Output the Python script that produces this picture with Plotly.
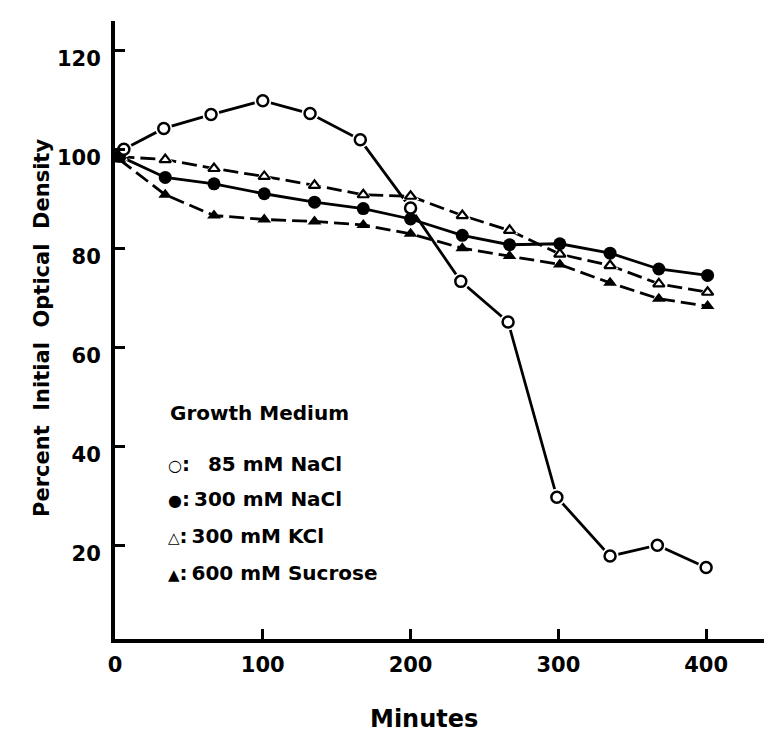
import plotly.graph_objects as go

# ---- data ----
t_open = [6, 33, 65, 100, 132, 166, 200, 234, 266, 299, 335, 367, 400]
nacl_85 = [100.1, 104.3, 107.1, 109.9, 107.3, 102.0, 88.2, 73.4, 65.2, 29.8, 17.9, 20.1, 15.6]

t_other = [3, 34, 67, 101, 135, 168, 200, 235, 267, 301, 335, 368, 401]
nacl_300 = [98.7, 94.4, 93.1, 91.1, 89.4, 88.1, 86.0, 82.7, 80.8, 81.0, 79.1, 75.9, 74.6]
kcl_300 = [98.6, 98.0, 96.2, 94.6, 92.8, 90.9, 90.6, 86.7, 83.7, 78.9, 76.6, 72.9, 71.2]
sucrose_600 = [98.0, 90.9, 86.7, 85.9, 85.5, 84.8, 83.0, 80.1, 78.5, 76.8, 73.1, 69.9, 68.4]

x_ticks = [0, 100, 200, 300, 400]
y_ticks = [20, 40, 60, 80, 100, 120]

legend_title = "Growth Medium"
legend_symbols = ["\u25cb", "\u25cf", "\u25b3", "\u25b2"]
legend_sym_sizes = [16, 16, 15, 15]
legend_labels = ["\u2009\u200785 mM NaCl", "\u2009300 mM NaCl",
                 "\u2009300 mM KCl", "\u2009600 mM Sucrose"]

FONT = "DejaVu Sans"
LW = 2.8

fig = go.Figure()

# lines
fig.add_trace(go.Scatter(x=t_other, y=kcl_300, mode="lines",
                         line=dict(color="black", width=LW, dash="15px,6px")))
fig.add_trace(go.Scatter(x=t_other, y=sucrose_600, mode="lines",
                         line=dict(color="black", width=LW, dash="15px,6px")))
fig.add_trace(go.Scatter(x=t_other, y=nacl_300, mode="lines",
                         line=dict(color="black", width=LW)))
fig.add_trace(go.Scatter(x=t_open, y=nacl_85, mode="lines",
                         line=dict(color="black", width=LW)))

# white halos for open markers
fig.add_trace(go.Scatter(x=t_other, y=kcl_300, mode="markers",
                         marker=dict(symbol="triangle-up", size=15, color="white")))
fig.add_trace(go.Scatter(x=t_open, y=nacl_85, mode="markers",
                         marker=dict(symbol="circle", size=17, color="white")))

# markers
fig.add_trace(go.Scatter(x=t_other, y=kcl_300, mode="markers",
                         marker=dict(symbol="triangle-up-open", size=10, color="black",
                                     line=dict(width=2.2, color="black"))))
fig.add_trace(go.Scatter(x=t_other, y=sucrose_600, mode="markers",
                         marker=dict(symbol="triangle-up", size=12, color="black")))
fig.add_trace(go.Scatter(x=t_other, y=nacl_300, mode="markers",
                         marker=dict(symbol="circle", size=13, color="black")))
fig.add_trace(go.Scatter(x=t_open, y=nacl_85, mode="markers",
                         marker=dict(symbol="circle", size=11, color="white",
                                     line=dict(width=2.5, color="black"))))

W, H = 772, 732
L, R, T, B = 107, 0, 13, 101


def px(x):
    return (x - L) / (W - L - R)


def py(y):
    return (H - B - y) / (H - T - B)


# legend as text
fig.add_annotation(x=px(160), y=py(405), xref="paper", yref="paper", text=legend_title,
                   showarrow=False, xanchor="left", yanchor="middle",
                   font=dict(family=FONT, size=20, color="black", weight="bold"))
row_y = [456, 491, 528, 565]
for sym, ss, lab, yy in zip(legend_symbols, legend_sym_sizes, legend_labels, row_y):
    txt = f'<span style="font-size:{ss}px">{sym}</span>:{lab}'
    fig.add_annotation(x=px(158), y=py(yy), xref="paper", yref="paper", text=txt,
                       showarrow=False, xanchor="left", yanchor="middle",
                       font=dict(family=FONT, size=20, color="black", weight="bold"))

# axis titles
fig.add_annotation(x=px(416), y=py(711), xref="paper", yref="paper", text="Minutes",
                   showarrow=False, xanchor="center", yanchor="middle",
                   font=dict(family=FONT, size=24, color="black", weight="bold"))
fig.add_annotation(x=px(34), y=py(320), xref="paper", yref="paper",
                   text="Percent  Initial  Optical  Density",
                   showarrow=False, textangle=-90, xanchor="center", yanchor="middle",
                   font=dict(family=FONT, size=21, color="black", weight="bold"))

fig.update_layout(
    width=W, height=H, margin=dict(l=L, r=R, t=T, b=B),
    plot_bgcolor="white", paper_bgcolor="white", showlegend=False,
    xaxis=dict(range=[0, 450], tickvals=x_ticks, ticktext=[str(v) for v in x_ticks],
               showline=True, linecolor="black", linewidth=4, showgrid=False,
               zeroline=False, ticks="inside", ticklen=10, tickwidth=2.5,
               tickcolor="black", ticklabelstandoff=4,
               tickfont=dict(family=FONT, size=21, color="black", weight="bold")),
    yaxis=dict(range=[1.15, 126], tickvals=y_ticks, ticktext=[str(v) for v in y_ticks],
               showline=True, linecolor="black", linewidth=4, showgrid=False,
               zeroline=False, ticks="inside", ticklen=10, tickwidth=2.5,
               tickcolor="black", ticklabelstandoff=6, ticklabelshift=8,
               tickfont=dict(family=FONT, size=21, color="black", weight="bold")),
)

fig.write_html("out.html")
